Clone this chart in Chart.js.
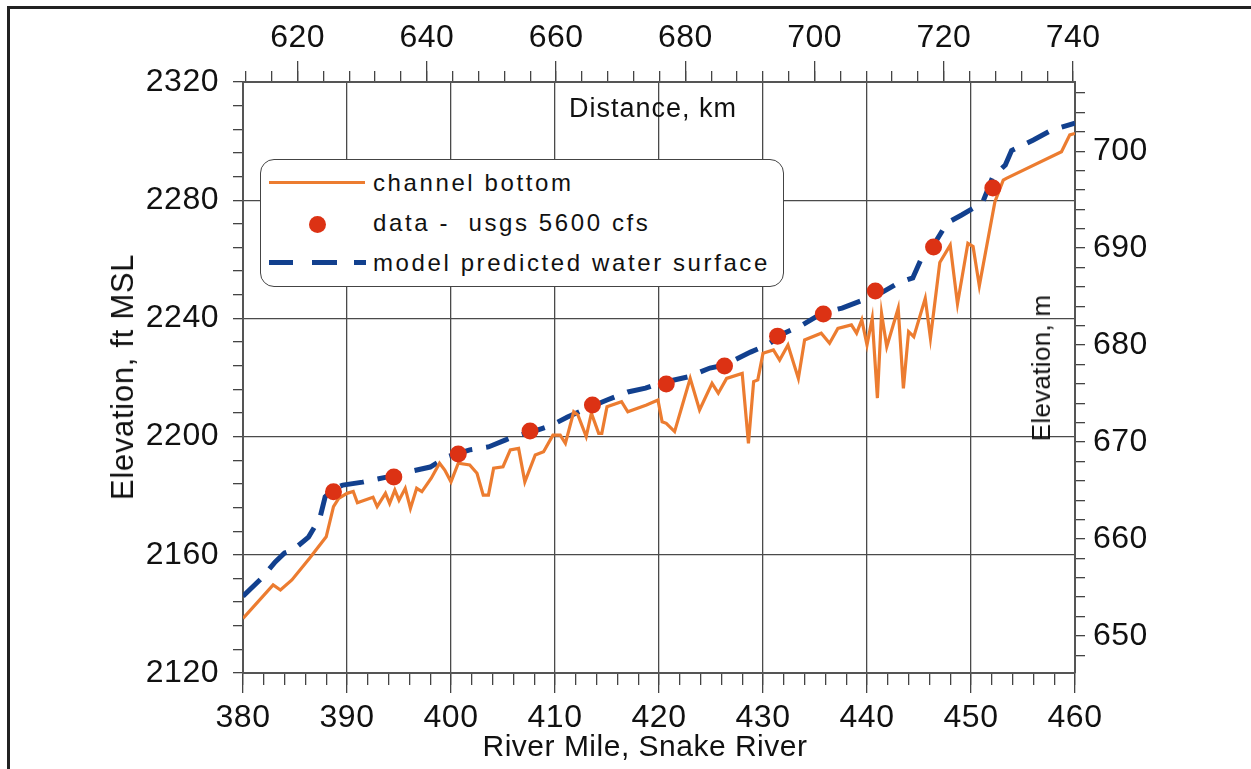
<!DOCTYPE html>
<html>
<head>
<meta charset="utf-8">
<title>Snake River profile</title>
<script src="https://cdn.jsdelivr.net/npm/chart.js@4.4.0/dist/chart.umd.min.js"></script>
<style>
  body { margin: 0; background: #fff; }
  #wrap { position: relative; width: 1251px; height: 769px; overflow: hidden; }
  #frame { position: absolute; left: 7px; top: 6px; width: 1300px; height: 800px;
           border-top: 3px solid #222; border-left: 3px solid #222; }
  canvas { position: absolute; left: 0; top: 0; }
  .txt { position: absolute; white-space: nowrap; color: #111;
         font-family: 'Liberation Sans', Arial, sans-serif; }
  .title { transform: translate(-50%, -50%); font-size: 30px; letter-spacing: 0.5px; line-height: 36px; }
  .rot { transform: translate(-50%, -50%) rotate(-90deg); }
  #legend { position: absolute; left: 260px; top: 159px; width: 522px; height: 126px;
            border: 1.5px solid #444; border-radius: 14px; background: #fff; }
  #legend .sw { position: absolute; }
  #legend .ltxt { left: 112px; font-size: 24px; letter-spacing: 2.6px; line-height: 30px; }
</style>
</head>
<body>
<div id="wrap">
  <div id="frame"></div>
  <canvas id="profile" width="1251" height="769"></canvas>

  <div class="txt title" style="left:653px; top:108px; font-size:27px; letter-spacing:1px;">Distance, km</div>
  <div class="txt title rot" style="left:1041px; top:368px; font-size:26px; letter-spacing:0.3px;">Elevation, m</div>
  <div class="txt title rot" style="left:123px; top:377px; font-size:31px; letter-spacing:0.7px;">Elevation, ft MSL</div>
  <div class="txt title" style="left:645px; top:746px;">River Mile, Snake River</div>

  <div id="legend">
    <div class="sw" style="left:8px; top:21px; width:96px; height:3px; background:#EC7C30;"></div>
    <div class="sw" style="left:48px; top:56px; width:17px; height:17px; border-radius:50%; background:#DC3214;"></div>
    <div class="sw" style="left:8px; top:100px; width:24px; height:5px; background:#12408E;"></div>
    <div class="sw" style="left:51px; top:100px; width:25px; height:5px; background:#12408E;"></div>
    <div class="sw" style="left:93px; top:100px; width:12px; height:5px; background:#12408E;"></div>
    <div class="txt ltxt" style="top:8px;">channel bottom</div>
    <div class="txt ltxt" style="top:48px;">data -&nbsp; usgs 5600 cfs</div>
    <div class="txt ltxt" style="top:88px;">model predicted water surface</div>
  </div>
</div>

<script>
/*-----------------------------
Data
------------------------------*/

// channel bottom profile
const bottomMile = [380.0, 382.9, 383.6, 384.7, 386.4, 388.0, 388.7, 389.2, 390.0, 390.6,
    391.0, 392.5, 392.9, 393.7, 394.1, 394.6, 395.0, 395.6, 396.1, 396.7,
    397.2, 398.1, 398.9, 399.4, 400.0, 400.7, 401.8, 402.5, 403.1, 403.6,
    404.1, 405.0, 405.7, 406.5, 407.1, 408.1, 408.9, 409.8, 410.5, 411.0,
    411.8, 412.2, 413.0, 413.5, 414.2, 414.5, 415.0, 416.4, 417.0, 418.8,
    419.9, 420.3, 420.7, 421.5, 422.2, 423.0, 423.9, 425.1, 425.7, 426.5,
    428.0, 428.6, 429.1, 429.5, 430.0, 431.0, 431.6, 432.4, 433.4, 434.0,
    435.6, 436.4, 437.2, 438.5, 439.0, 439.5, 440.0, 440.5, 441.0, 441.4,
    441.9, 443.0, 443.5, 444.0, 444.5, 445.6, 446.1, 447.0, 448.0, 448.7,
    449.7, 450.2, 450.8, 452.3, 453.1, 453.4, 458.7, 459.5, 460.0];
const bottomFt = [2138.5, 2149.8, 2148.1, 2151.5, 2158.8, 2166.1, 2176.3, 2179.1, 2180.8, 2181.4,
    2177.6, 2179.5, 2176.3, 2180.8, 2177.4, 2181.9, 2178.5, 2182.5, 2175.7, 2182.5,
    2181.4, 2185.9, 2191.0, 2188.7, 2184.7, 2191.0, 2190.4, 2187.6, 2180.2, 2180.2,
    2189.3, 2189.8, 2195.5, 2196.0, 2184.7, 2193.8, 2194.9, 2200.5, 2200.5, 2197.7,
    2208.4, 2207.3, 2200.0, 2207.9, 2201.1, 2201.1, 2210.1, 2211.8, 2208.4, 2210.7,
    2212.4, 2205.0, 2204.5, 2201.7, 2210.1, 2219.7, 2209.0, 2218.0, 2214.7, 2219.7,
    2221.4, 2197.7, 2218.6, 2219.2, 2228.2, 2229.3, 2225.9, 2231.0, 2219.7, 2232.7,
    2235.0, 2231.6, 2236.6, 2237.8, 2235.0, 2239.5, 2231.0, 2240.0, 2213.0, 2241.7,
    2230.4, 2243.4, 2216.3, 2235.5, 2233.8, 2246.8, 2233.3, 2258.9, 2264.8, 2244.9,
    2265.4, 2264.3, 2251.0, 2279.5, 2286.8, 2287.4, 2296.4, 2302.1, 2302.6];

// usgs measured water surface, 5600 cfs
const dataMile = [388.7, 394.5, 400.7, 407.6, 413.6, 420.7, 426.3, 431.4, 435.8, 440.8, 446.4, 452.1];
const dataFt = [2181.3, 2186.3, 2194.1, 2201.9, 2210.7, 2217.8, 2223.9, 2234.0, 2241.5, 2249.3, 2264.2, 2284.1];

// model predicted water surface
const modelMile = [380.0, 381.8, 383.1, 384.0, 384.8, 386.3, 387.4, 387.9, 388.7, 389.6,
    391.5, 393.8, 395.8, 398.0, 399.6, 401.8, 403.6, 405.2, 405.7, 408.3,
    409.7, 411.2, 412.7, 415.0, 417.0, 418.7, 420.1, 422.8, 424.9, 426.3,
    428.8, 430.4, 432.1, 433.8, 435.7, 437.6, 439.6, 441.5, 443.0, 444.4,
    445.3, 446.7, 447.7, 449.1, 451.1, 452.1, 453.3, 453.9, 456.0, 457.8, 460.0];
const modelFt = [2146.0, 2152.1, 2157.6, 2160.6, 2161.6, 2166.0, 2172.5, 2179.6, 2182.3, 2183.6,
    2184.6, 2186.3, 2188.0, 2189.7, 2193.1, 2195.5, 2196.5, 2198.8, 2199.5, 2202.2,
    2203.9, 2206.6, 2209.0, 2212.4, 2215.1, 2216.4, 2218.1, 2220.2, 2223.2, 2224.2,
    2228.6, 2231.0, 2235.1, 2237.8, 2241.8, 2243.5, 2246.2, 2248.9, 2252.0, 2253.7,
    2260.8, 2266.5, 2272.3, 2275.0, 2279.1, 2287.9, 2291.9, 2296.8, 2300.4, 2303.8, 2306.1];

// labelled ticks
const mileTicks = [380, 390, 400, 410, 420, 430, 440, 450, 460];
const ftTicks = [2120, 2160, 2200, 2240, 2280, 2320];
const kmTicks = [620, 640, 660, 680, 700, 720, 740];
const mTicks = [650, 660, 670, 680, 690, 700];

const KM_PER_MILE = 1.609344;
const M_PER_FT = 0.3048;

/*-----------------------------
Helpers
------------------------------*/

const pair = (xs, ys) => xs.map((x, i) => ({x: x, y: ys[i]}));

// minor tick marks between the labelled ones
function minorTicks(from, to, step) {
    const t = [];
    for (let v = from; v <= to + 1e-6; v += step) t.push({value: Math.round(v * 1000) / 1000});
    return t;
}
const isLabel = (list, v) => list.some(t => Math.abs(t - v) < 1e-6);

const axisFont = {family: "'Liberation Sans', Arial, sans-serif", size: 32, lineHeight: 1};
const tickInk = '#444';
const gridInk = '#4a4a4a';

function axis(pos, min, max, labels, step, first, last, size, tickLen, pad, onArea) {
    const horiz = pos === 'top' || pos === 'bottom';
    return {
        type: 'linear',
        position: pos,
        min: min,
        max: max,
        afterBuildTicks: s => { s.ticks = minorTicks(first, last, step); },
        afterFit: s => { if (horiz) s.height = size; else s.width = size; },
        ticks: {
            autoSkip: false,
            maxRotation: 0,
            font: axisFont,
            color: '#111',
            padding: pad,
            callback: v => isLabel(labels, v) ? String(Math.round(v)) : ''
        },
        grid: {
            drawOnChartArea: onArea,
            color: c => (c.tick && isLabel(labels, c.tick.value)) ? gridInk : 'rgba(0,0,0,0)',
            tickColor: tickInk,
            tickLength: tickLen,
            lineWidth: 1.3
        },
        border: {display: true, color: '#555', width: 2}
    };
}

// longer marks for the labelled x ticks: an unlabelled axis pinned at a y value,
// its marks hang downward from there
function majorMarks(min, max, labels, atFt, len) {
    return {
        axis: 'x',
        type: 'linear',
        position: {y: atFt},
        min: min,
        max: max,
        afterBuildTicks: s => { s.ticks = labels.map(v => ({value: v})); },
        ticks: {display: false},
        grid: {drawOnChartArea: false, tickColor: tickInk, tickLength: len, lineWidth: 1.3},
        border: {display: false}
    };
}

// canvas letter spacing for the tick numbers
const spacing = {
    id: 'spacing',
    beforeDraw(chart) { chart.ctx.letterSpacing = '0.5px'; }
};

/*-----------------------------
Profile chart
------------------------------*/

const profile = new Chart(document.getElementById('profile'), {
    type: 'scatter',
    data: {
        datasets: [{
            label: 'data - usgs 5600 cfs',
            data: pair(dataMile, dataFt),
            pointRadius: 8.5,
            pointBackgroundColor: '#DC3214',
            pointBorderWidth: 0,
            showLine: false,
            order: 0
        }, {
            label: 'channel bottom',
            data: pair(bottomMile, bottomFt),
            showLine: true,
            borderColor: '#EC7C30',
            borderWidth: 3.2,
            pointRadius: 0,
            tension: 0,
            order: 1
        }, {
            label: 'model predicted water surface',
            data: pair(modelMile, modelFt),
            showLine: true,
            borderColor: '#12408E',
            borderWidth: 5,
            borderDash: [24, 14],
            borderCapStyle: 'butt',
            pointRadius: 0,
            tension: 0,
            order: 2
        }]
    },
    options: {
        responsive: false,
        animation: false,
        devicePixelRatio: 1,
        layout: {padding: 0},
        plugins: {
            legend: {display: false},
            tooltip: {enabled: false}
        },
        scales: {
            x: axis('bottom', 380, 460, mileTicks, 2, 380, 460, 96, 12, 17, true),
            y: axis('left', 2120, 2320, ftTicks, 8, 2120, 2320, 243, 10, 14, true),
            x2: axis('top', 380 * KM_PER_MILE, 460 * KM_PER_MILE, kmTicks, 4, 612, 740, 82, 11, 17, false),
            y2: axis('right', 2120 * M_PER_FT, 2320 * M_PER_FT, mTicks, 2, 648, 706, 176, 10, 8, false),
            xMajor: majorMarks(380, 460, mileTicks, 2120, 20),
            kmMajor: majorMarks(380 * KM_PER_MILE, 460 * KM_PER_MILE, kmTicks, 2327, 20)
        }
    },
    plugins: [spacing]
});
</script>
</body>
</html>
